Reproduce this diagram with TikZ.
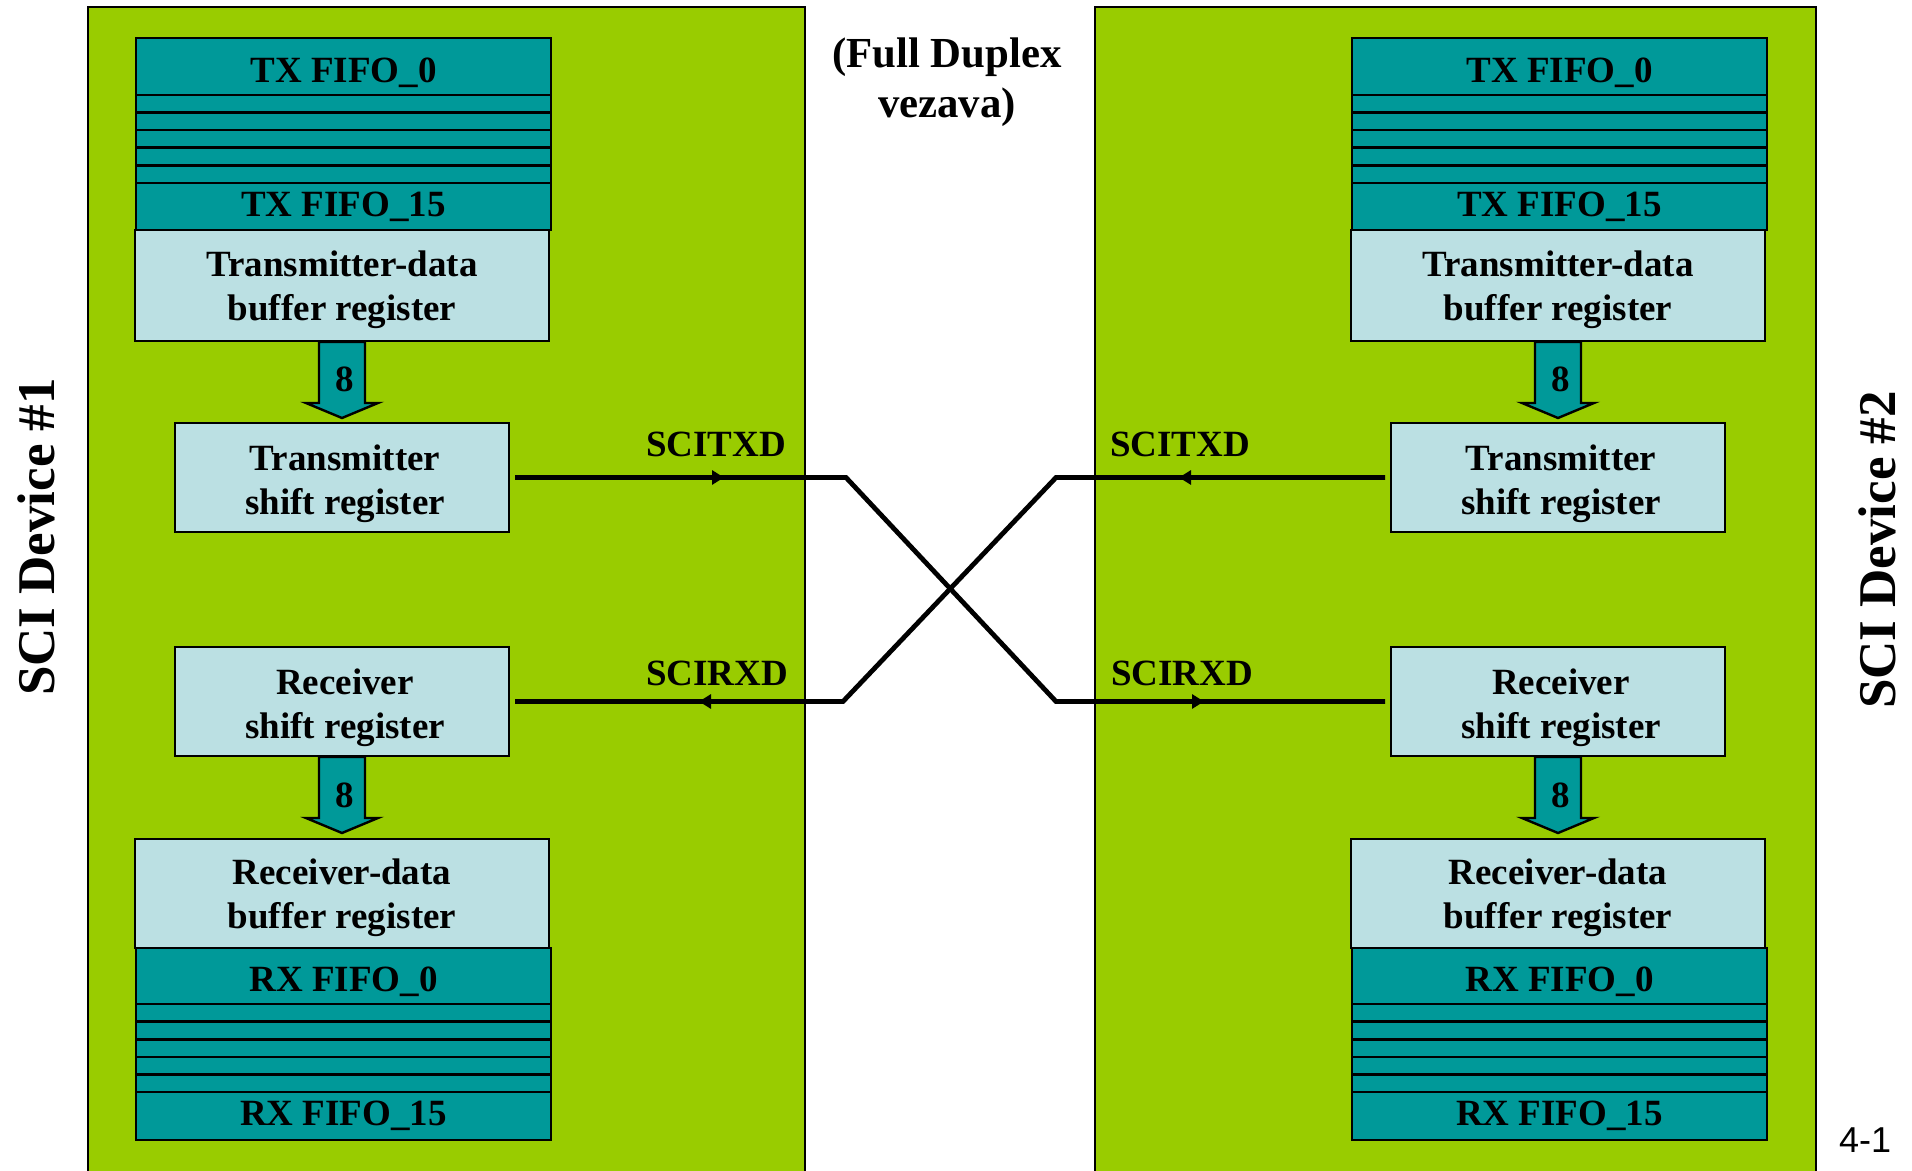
\documentclass[tikz,border=0pt]{standalone}
\usepackage{fontspec}
\setmainfont{Liberation Serif}
\newfontfamily\arialfont{Liberation Sans}
\usetikzlibrary{arrows.meta}
\definecolor{panelgreen}{HTML}{99CC00}
\definecolor{fifoteal}{HTML}{009999}
\definecolor{reglight}{HTML}{BBE0E3}
\begin{document}
\begin{tikzpicture}[x=0.5pt,y=-0.5pt,
  txt/.style={font=\bfseries\fontsize{18.5}{22}\selectfont, align=center},
  fifo/.style={draw=black, line width=1.3pt, fill=fifoteal, inner sep=0pt, outer sep=0pt,
     minimum width=207.5pt, anchor=north west},
  thinrow/.style={draw=black, line width=1.3pt, fill=fifoteal},
  regbox/.style={draw=black, line width=1.3pt, fill=reglight, inner sep=0pt, outer sep=0pt},
  bus/.style={draw=black, line width=1.2pt, fill=fifoteal},
  wire/.style={draw=black, line width=2.4pt},
  tip/.style={wire, -{Triangle[length=6pt,width=7pt]}},
  lbl/.style={txt, inner sep=0pt},
  side/.style={font=\bfseries\fontsize{26.5}{30}\selectfont, rotate=90, inner sep=0pt},
  busarrow/.pic={\draw[bus] (-23,0) -- (23,0) -- (23,61) -- (36,61) -- (0,76) -- (-36,61) -- (-23,61) -- cycle;}
]
\useasboundingbox (0,0) rectangle (1912,1171);
\fill[white] (0,0) rectangle (1912,1171);

% panels
\fill[panelgreen] (88,7) rectangle (805,1171);
\draw[line width=1pt] (88,1171) -- (88,7) -- (805,7) -- (805,1171);
\fill[panelgreen] (1095,7) rectangle (1816,1171);
\draw[line width=1pt] (1095,1171) -- (1095,7) -- (1816,7) -- (1816,1171);

\foreach \s/\dx in {1/0, 2/1216}{
  % TX FIFO
  \node[fifo, minimum height=28.5pt] (txf0\s) at (136+\dx,38) {};
  \node[lbl] (txf0t\s) at ([yshift=-3pt]txf0\s.center) {TX FIFO\_0};
  \foreach \y in {95,112.6,130.2,147.8,165.4}{
    \draw[thinrow] (136+\dx,\y) rectangle (551+\dx,\y+17.6);
  }
  \node[fifo, minimum height=23.5pt] (txf15\s) at (136+\dx,183) {};
  \node[lbl] (txf15t\s) at (txf15\s.center) {TX FIFO\_15};
  % TX buffer
  \node[regbox, minimum width=207pt, minimum height=55.5pt] (txbuf\s) at (342+\dx,285.5) {};
  \node[lbl] (txbuft\s) at ([yshift=-2pt]txbuf\s.center) {Transmitter-data\\buffer register};
  \pic at (342+\dx,342) {busarrow};
  \node[lbl] (n8t\s) at (345+\dx,379) {8};
  % TX shift register
  \node[regbox, minimum width=167pt, minimum height=54.5pt] (txsr\s) at (342+\dx,477.5) {};
  \node[lbl] (txsrt\s) at ([xshift=1.5pt,yshift=-3pt]txsr\s.center) {Transmitter\\shift register};
  % RX shift register
  \node[regbox, minimum width=167pt, minimum height=54.5pt] (rxsr\s) at (342+\dx,701.5) {};
  \node[lbl] (rxsrt\s) at ([xshift=1.5pt,yshift=-3pt]rxsr\s.center) {Receiver\\shift register};
  \pic at (342+\dx,757) {busarrow};
  \node[lbl] (n8r\s) at (345+\dx,795) {8};
  % RX buffer
  \node[regbox, minimum width=207pt, minimum height=54.5pt] (rxbuf\s) at (342+\dx,893.5) {};
  \node[lbl] (rxbuft\s) at ([yshift=-2pt]rxbuf\s.center) {Receiver-data\\buffer register};
  % RX FIFO
  \node[fifo, minimum height=28pt] (rxf0\s) at (136+\dx,948) {};
  \node[lbl] (rxf0t\s) at ([yshift=-3pt]rxf0\s.center) {RX FIFO\_0};
  \foreach \y in {1004,1021.6,1039.2,1056.8,1074.4}{
    \draw[thinrow] (136+\dx,\y) rectangle (551+\dx,\y+17.6);
  }
  \node[fifo, minimum height=24pt] (rxf15\s) at (136+\dx,1092) {};
  \node[lbl] (rxf15t\s) at (rxf15\s.center) {RX FIFO\_15};
}

% crossing wires
\coordinate (c1) at (846,477.5);
\coordinate (c2) at (1056,701.5);
\coordinate (c3) at (1056,477.5);
\coordinate (c4) at (843,701.5);
\draw[wire] ([xshift=3pt]txsr1.east) -- (c1) -- (c2) -- ([xshift=-3pt]rxsr2.west);
\draw[wire] ([xshift=-3pt]txsr2.west) -- (c3) -- (c4) -- ([xshift=3pt]rxsr1.east);

% direction markers
\coordinate (m1) at (724,477.5);
\coordinate (m2) at (699,701.5);
\coordinate (m3) at (1179,477.5);
\coordinate (m4) at (1204,701.5);
\draw[tip] ([xshift=3pt]txsr1.east) -- (m1);
\draw[tip] (c4) -- (m2);
\draw[tip] ([xshift=-3pt]txsr2.west) -- (m3);
\draw[tip] (c2) -- (m4);

% wire labels
\node[lbl] (lt1) at (716,444) {SCITXD};
\node[lbl] (lr1) at (717,673) {SCIRXD};
\node[lbl] (lt2) at (1180,444) {SCITXD};
\node[lbl] (lr2) at (1182,673) {SCIRXD};

% title
\node[inner sep=0pt, align=center, font=\bfseries\fontsize{21.4}{25}\selectfont] (title) at (947,82) {(Full Duplex\\vezava)};

% side labels
\node[side] (dev1) at (36,537) {SCI Device \#1};
\node[side] (dev2) at (1877,550) {SCI Device \#2};

% page number
\node[font=\arialfont\fontsize{18}{22}\selectfont, inner sep=0pt] (pg) at (1865,1140) {4-1};
\end{tikzpicture}
\end{document}
